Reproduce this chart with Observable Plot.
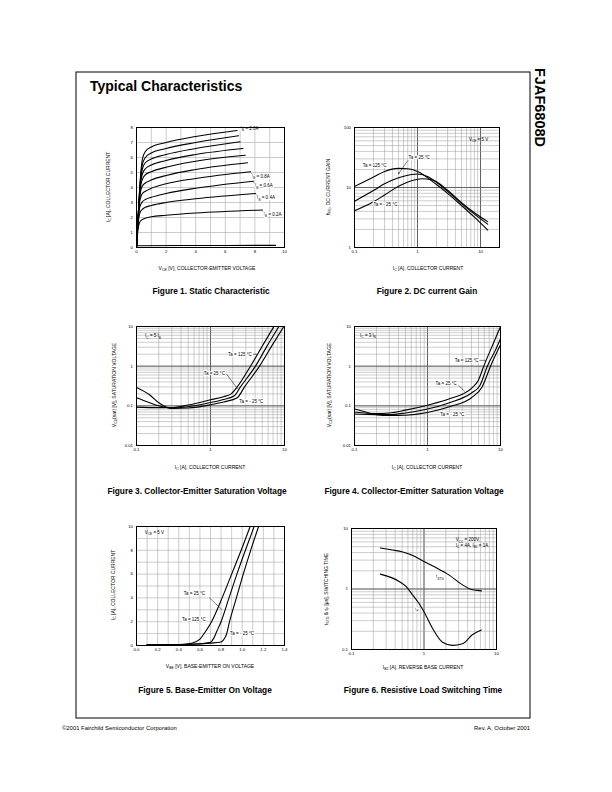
<!DOCTYPE html>
<html><head><meta charset="utf-8">
<script src="https://cdn.jsdelivr.net/npm/d3@7"></script>
<script src="https://cdn.jsdelivr.net/npm/@observablehq/plot@0.6"></script>
<style>
html,body{margin:0;padding:0;background:#fff;}
#page{position:relative;width:612px;height:792px;overflow:hidden;background:#fff;}
#page svg{position:absolute;overflow:visible;max-width:none;}
text{paint-order:stroke;}
</style></head><body><div id="page"></div>
<script>
// ---------------- DATA ----------------
// Figure 1: Static characteristic, IC [A] vs VCE [V], one array per IB
const f1Ticks = [0, 2, 4, 6, 8, 10];
const f1YTicks = [0, 1, 2, 3, 4, 5, 6, 7, 8];
const ib20 = [[0,0],[0.1,1.9],[0.2,3.7],[0.3,5.1],[0.4,5.9],[0.6,6.4],[1,6.7],[2,7.0],[4,7.4],[6.8,7.8]];
const ib18 = [[0,0],[0.1,1.9],[0.2,3.6],[0.3,4.9],[0.4,5.55],[0.6,6.0],[1,6.3],[2,6.6],[4,7.0],[6.9,7.45]];
const ib16 = [[0,0],[0.1,1.85],[0.2,3.5],[0.3,4.7],[0.4,5.25],[0.6,5.65],[1,5.9],[2,6.2],[4,6.6],[7.0,7.05]];
const ib14 = [[0,0],[0.1,1.8],[0.2,3.4],[0.3,4.45],[0.4,4.9],[0.6,5.25],[1,5.5],[2,5.8],[4,6.2],[7.2,6.6]];
const ib12 = [[0,0],[0.1,1.8],[0.2,3.3],[0.3,4.2],[0.4,4.55],[0.6,4.85],[1,5.05],[2,5.35],[4,5.75],[7.35,6.15]];
const ib10 = [[0,0],[0.1,1.75],[0.2,3.15],[0.3,3.85],[0.4,4.1],[0.6,4.3],[1,4.5],[2,4.8],[4,5.2],[7.5,5.65]];
const ib08 = [[0,0],[0.1,1.7],[0.2,2.95],[0.3,3.4],[0.4,3.6],[0.6,3.75],[1,3.95],[2,4.25],[4,4.6],[7.7,5.05]];
const ib06 = [[0,0],[0.1,1.65],[0.2,2.6],[0.3,2.9],[0.4,3.05],[0.6,3.2],[1,3.35],[2,3.6],[4,3.95],[7.9,4.42]];
const ib04 = [[0,0],[0.1,1.5],[0.2,2.2],[0.3,2.45],[0.4,2.55],[0.6,2.68],[1,2.8],[2,3.0],[4,3.25],[8.05,3.6]];
const ib02 = [[0,0],[0.1,1.2],[0.2,1.65],[0.3,1.8],[0.4,1.87],[0.6,1.95],[1,2.05],[2,2.15],[4,2.3],[8.5,2.5]];
const ib00 = [[0,0.12],[3,0.13],[9.4,0.14]];
const f1Labels = [
  {x: 7.05, y: 7.95, t: "I_{B} = 2.0A"},
  {x: 7.8, y: 4.72, t: "I_{B} = 0.8A"},
  {x: 8.0, y: 4.1, t: "I_{B} = 0.6A"},
  {x: 8.15, y: 3.3, t: "I_{B} = 0.4A"},
  {x: 8.6, y: 2.2, t: "I_{B} = 0.2A"}
];
const f1Leaders = [[7.7,5.0,7.85,4.85],[7.9,4.37,8.05,4.22],[8.05,3.55,8.2,3.42],[8.5,2.45,8.65,2.32]];

// Figure 2: DC current gain hFE vs IC
const f2XTicks = [0.1, 1, 10];
const f2YTicks = [1, 10, 100];
const hfe125 = [[0.1,10.4],[0.15,12.8],[0.2,14.9],[0.3,18.5],[0.5,20.8],[0.7,20.5],[1,18.5],[2,11.2],[3,8],[5,5.0],[8,3.2],[13,1.95]];
const hfe25  = [[0.1,5.9],[0.2,8.9],[0.3,11.5],[0.5,14.5],[0.8,16.5],[1,16.8],[1.5,15],[2,12.2],[3,8.6],[5,5.4],[8,3.6],[13,2.45]];
const hfeM25 = [[0.1,4.1],[0.2,5.8],[0.3,7.5],[0.5,10.5],[0.8,13],[1.2,14],[1.6,13.6],[2,12.5],[3,9],[5,5.6],[8,3.8],[13,2.7]];
const f2Labels = [{x:0.135,y:23.5,t:"Ta = 125 °C"},{x:0.72,y:31,t:"Ta = 25 °C"},{x:0.2,y:5.2,t:"Ta = - 25 °C"}];
const f2Arrows = [[0.7,28,0.5,17]];
const f2Box = [{x:9.3,y:63,t:"V_{CE} = 5 V"}];

// Figure 3: VCE(sat) vs IC, IC = 5 IB
const satXTicks = [0.1, 1, 10];
const satYTicks = [0.01, 0.1, 1, 10];
const s5_125 = [[0.1,0.093],[0.2,0.09],[0.3,0.09],[0.5,0.105],[1,0.142],[1.5,0.17],[1.9,0.2],[2.3,0.3],[3.47,1],[5,3.2],[7.2,10]];
const s5_25  = [[0.1,0.16],[0.15,0.12],[0.2,0.1],[0.3,0.088],[0.5,0.095],[1,0.121],[1.5,0.145],[2.1,0.18],[2.54,0.3],[4.05,1],[5.8,3.2],[8.4,10]];
const s5_m25 = [[0.1,0.29],[0.15,0.19],[0.2,0.12],[0.3,0.086],[0.5,0.088],[1,0.106],[1.5,0.125],[2.3,0.16],[2.88,0.3],[4.6,1],[6.7,3.2],[9.8,10]];
const f3Labels = [{x:1.73,y:2.0,t:"Ta = 125 °C"},{x:0.81,y:0.65,t:"Ta = 25 °C"},{x:2.45,y:0.126,t:"Ta = - 25 °C"}];
const f3Leaders = [[3.75,2.0,4.25,2.0],[1.65,0.63,2.35,0.26]];
const f3Box = [{x:0.167,y:5.75,t:"I_{C} = 5 I_{B}"}];

// Figure 4: VCE(sat) vs IC, IC = 3 IB
const s3_125 = [[0.1,0.07],[0.2,0.064],[0.3,0.066],[0.5,0.078],[1,0.104],[2,0.15],[4,0.275],[5,0.45],[5.9,1],[8,3.8],[10,10]];
const s3_25  = [[0.1,0.062],[0.2,0.06],[0.3,0.06],[0.5,0.066],[1,0.083],[2,0.12],[4,0.21],[5.2,0.32],[6.6,1],[8.5,2.5],[10,4.9]];
const s3_m25 = [[0.1,0.083],[0.15,0.068],[0.2,0.06],[0.3,0.057],[0.5,0.058],[1,0.068],[2,0.095],[4,0.16],[5.6,0.3],[7.3,1],[10,3.45]];
const f4Labels = [{x:2.37,y:1.4,t:"Ta = 125 °C"},{x:1.29,y:0.37,t:"Ta = 25 °C"},{x:1.5,y:0.06,t:"Ta = - 25 °C"}];
const f4Leaders = [[5.1,1.4,6.3,1.4],[2.65,0.33,3.25,0.23]];
const f4Box = [{x:0.153,y:5.9,t:"I_{C} = 3 I_{B}"}];

// Figure 5: IC vs VBE
const f5XTicks = [0, 0.2, 0.4, 0.6, 0.8, 1.0, 1.2, 1.4];
const f5YTicks = [0, 2, 4, 6, 8, 10];
const be125 = [[0.1,0.05],[0.3,0.07],[0.45,0.1],[0.52,0.18],[0.6,0.53],[0.65,1.14],[0.71,2.0],[0.81,4.0],[0.9,6.0],[0.99,8.0],[1.075,10]];
const be25  = [[0.1,0.05],[0.4,0.08],[0.6,0.15],[0.7,0.28],[0.73,0.6],[0.76,1.2],[0.8,2.0],[0.875,4],[0.95,6],[1.03,8],[1.113,10]];
const beM25 = [[0.1,0.05],[0.5,0.1],[0.7,0.2],[0.8,0.3],[0.825,0.5],[0.85,0.9],[0.88,2.0],[0.945,4.0],[1.01,6.0],[1.08,8.0],[1.155,10]];
const f5Labels = [{x:0.447,y:4.34,t:"Ta = 25 °C"},{x:0.43,y:2.18,t:"Ta = 125 °C"},{x:0.885,y:0.98,t:"Ta = - 25 °C"}];
const f5Leaders = [[0.69,4.0,0.81,3.0]];
const f5Box = [{x:0.17,y:9.5,t:"V_{CE} = 5 V"}];

// Figure 6: switching time vs IB2
const f6Ticks = [0.1, 1, 10];
const tstg = [[0.25,4.77],[0.35,4.45],[0.51,4.1],[0.75,3.45],[1.0,2.85],[1.46,2.26],[2.2,1.71],[3.4,1.17],[4.5,0.98],[6.2,0.93]];
const tf   = [[0.25,1.76],[0.46,1.32],[0.57,1.09],[0.7,0.79],[0.85,0.58],[1.0,0.42],[1.32,0.22],[1.8,0.132],[2.47,0.117],[3.4,0.124],[4.64,0.175],[6.17,0.21]];
const f6Labels = [{x:1.46,y:1.58,t:"t_{STG}"},{x:0.76,y:0.46,t:"t_{F}"}];
const f6Box = [{x:2.74,y:6.5,t:"V_{CC} = 200V,"},{x:2.74,y:5.2,t:"I_{C} = 4A, I_{B1} = 1A"}];

// page texts
const captions = [
  {t:"Figure 1. Static Characteristic", x:211, y:294},
  {t:"Figure 2. DC current Gain", x:427, y:294},
  {t:"Figure 3. Collector-Emitter Saturation Voltage", x:197, y:494},
  {t:"Figure 4. Collector-Emitter Saturation Voltage", x:414, y:494},
  {t:"Figure 5. Base-Emitter On Voltage", x:205, y:693},
  {t:"Figure 6. Resistive Load Switching Time", x:423, y:693}
];
const xTitles = [
  {t:"V_{CE} [V], COLLECTOR-EMITTER VOLTAGE", x:207, y:270},
  {t:"I_{C} [A], COLLECTOR CURRENT", x:428, y:270},
  {t:"I_{C} [A], COLLECTOR CURRENT", x:210, y:469},
  {t:"I_{C} [A], COLLECTOR CURRENT", x:427, y:469},
  {t:"V_{BE} [V], BASE-EMITTER ON VOLTAGE", x:210, y:668},
  {t:"I_{B2} [A], REVERSE BASE CURRENT", x:423, y:669}
];
const yTitles = [
  {t:"I_{C} [A], COLLECTOR CURRENT", x:110, y:187},
  {t:"h_{FE}, DC CURRENT GAIN", x:330, y:187},
  {t:"V_{CE}(sat) [V], SATURATION VOLTAGE", x:116, y:385},
  {t:"V_{CE}(sat) [V], SATURATION VOLTAGE", x:331, y:385},
  {t:"I_{C} [A], COLLECTOR CURRENT", x:115, y:585},
  {t:"t_{STG} & t_{F} [μs], SWITCHING TIME", x:328, y:589}
];

// ---------------- HELPERS ----------------
const FONT = "'Liberation Sans', Arial, Helvetica, sans-serif";
const NS = "http://www.w3.org/2000/svg";
const page = document.getElementById("page");

function setRich(el, str, fs) {
  const parts = str.split(/(_\{[^}]*\})/);
  el.textContent = "";
  let shifted = false;
  for (const p of parts) {
    if (!p) continue;
    const t = document.createElementNS(NS, "tspan");
    const m = p.match(/^_\{([^}]*)\}$/);
    if (m) {
      t.textContent = m[1];
      t.setAttribute("font-size", fs * 0.7);
      t.setAttribute("dy", fs * 0.28);
      shifted = true;
    } else {
      t.textContent = p;
      if (shifted) { t.setAttribute("dy", -fs * 0.28); shifted = false; }
    }
    el.appendChild(t);
  }
}
function fixSubs(svg, fs) {
  svg.querySelectorAll("text, tspan").forEach(el => {
    if ([...el.childNodes].every(n => n.nodeType === 3) && el.textContent.includes("_{")) setRich(el, el.textContent, fs);
  });
}
function boxes(svg) {
  svg.querySelectorAll('g[aria-label="boxed"]').forEach(g => {
    const b = g.getBBox();
    const r = document.createElementNS(NS, "rect");
    r.setAttribute("x", b.x - 2.5); r.setAttribute("y", b.y - 1.5);
    r.setAttribute("width", b.width + 5); r.setAttribute("height", b.height + 3);
    r.setAttribute("fill", "white"); r.setAttribute("stroke", "black"); r.setAttribute("stroke-width", 0.6);
    g.insertBefore(r, g.firstChild);
  });
}
const rows = (obj) => Object.entries(obj).flatMap(([id, pts]) => pts.map(([x, y]) => ({id, x, y})));
const LFS = 4.5;
const curveMark = (data) => Plot.line(data, {x: "x", y: "y", z: "id", curve: "monotone-x", stroke: "black", strokeWidth: 1.1});
const labelMark = (data, anchor = "start") => Plot.text(data, {x: "x", y: "y", text: "t", textAnchor: anchor, fontSize: LFS, fill: "black", stroke: "white", strokeWidth: 2});
const boxMark = (data, anchor = "middle") => Plot.text(data, {x: "x", y: "y", text: "t", textAnchor: anchor, fontSize: LFS, fill: "black", ariaLabel: "boxed"});
const linkMark = (data) => Plot.link(data, {x1: d => d[0], y1: d => d[1], x2: d => d[2], y2: d => d[3], stroke: "black", strokeWidth: 0.5});
const logGrid = (dom, axis) => {
  const all = d3.scaleLog().domain(dom).ticks();
  const major = all.filter(v => Math.abs(Math.log10(v) - Math.round(Math.log10(v))) < 1e-9);
  const R = axis === "x" ? Plot.ruleX : Plot.ruleY;
  return [R(all, {stroke: "#9a9a9a", strokeWidth: 0.5}), R(major, {stroke: "#555", strokeWidth: 0.9})];
};

function chart({frame: [x0, y0, x1, y1], x, y, marks}) {
  const mL = 22, mR = 6, mT = 6, mB = 14;
  const svg = Plot.plot({
    width: x1 - x0 + mL + mR, height: y1 - y0 + mT + mB,
    marginLeft: mL, marginRight: mR, marginTop: mT, marginBottom: mB,
    x: {...x, label: null, tickSize: 0, tickPadding: 2.5},
    y: {...y, label: null, tickSize: 0, tickPadding: 3.5},
    style: {fontFamily: FONT, fontSize: "4.3px", color: "black", background: "transparent", overflow: "visible"},
    marks: [...marks, Plot.frame({stroke: "black", strokeWidth: 1})]
  });
  svg.style.left = (x0 - mL) + "px";
  svg.style.top = (y0 - mT) + "px";
  page.appendChild(svg);
  fixSubs(svg, LFS);
  boxes(svg);
}

// ---------------- PAGE OVERLAY ----------------
const ov = d3.select(page).append("svg").attr("width", 612).attr("height", 792)
  .style("left", "0px").style("top", "0px").attr("font-family", FONT);
ov.append("rect").attr("x", 76).attr("y", 72).attr("width", 454).attr("height", 646)
  .attr("fill", "none").attr("stroke", "black").attr("stroke-width", 1);
function rich(str, {x, y, size, weight = "normal", anchor = "start", rotate = 0}) {
  const t = ov.append("text").attr("font-size", size).attr("font-weight", weight).attr("text-anchor", anchor);
  if (rotate) t.attr("transform", `translate(${x},${y}) rotate(${rotate})`); else t.attr("x", x).attr("y", y);
  setRich(t.node(), str, size);
}
rich("Typical Characteristics", {x: 90, y: 91, size: 14, weight: "bold"});
rich("FJAF6808D", {x: 535, y: 68, size: 14.5, weight: "bold", rotate: 90});
rich("©2001 Fairchild Semiconductor Corporation", {x: 62, y: 730, size: 5.9});
rich("Rev. A, October 2001", {x: 530, y: 730, size: 5.9, anchor: "end"});
captions.forEach(c => rich(c.t, {x: c.x, y: c.y, size: 8.3, weight: "bold", anchor: "middle"}));
xTitles.forEach(c => rich(c.t, {x: c.x, y: c.y, size: 5, anchor: "middle"}));
yTitles.forEach(c => rich(c.t, {x: c.x, y: c.y, size: 5, anchor: "middle", rotate: -90}));

// ---------------- CHARTS ----------------
// Figure 1
chart({
  frame: [136, 127, 284, 247],
  x: {domain: [0, 10], ticks: f1Ticks, tickFormat: d => String(d)},
  y: {domain: [0, 8], ticks: f1YTicks, tickFormat: d => String(d)},
  marks: [
    Plot.ruleX(d3.range(0, 11), {stroke: "#aaa", strokeWidth: 0.6}),
    Plot.ruleY(d3.range(0, 9), {stroke: "#aaa", strokeWidth: 0.6}),
    curveMark(rows({ib20, ib18, ib16, ib14, ib12, ib10, ib08, ib06, ib04, ib02, ib00})),
    linkMark(f1Leaders),
    labelMark(f1Labels)
  ]
});
// Figure 2
chart({
  frame: [354, 127, 499, 247],
  x: {type: "log", domain: [0.1, 20], ticks: f2XTicks, tickFormat: d => String(d)},
  y: {type: "log", domain: [1, 100], ticks: f2YTicks, tickFormat: d => String(d)},
  marks: [
    ...logGrid([0.1, 20], "x"), ...logGrid([1, 100], "y"),
    curveMark(rows({hfe125, hfe25, hfeM25})),
    Plot.arrow(f2Arrows, {x1: d => d[0], y1: d => d[1], x2: d => d[2], y2: d => d[3], stroke: "black", strokeWidth: 0.5, headLength: 3}),
    labelMark(f2Labels),
    boxMark(f2Box)
  ]
});
// Figure 3
chart({
  frame: [136, 326, 284, 445],
  x: {type: "log", domain: [0.1, 10], ticks: satXTicks, tickFormat: d => String(d)},
  y: {type: "log", domain: [0.01, 10], ticks: satYTicks, tickFormat: d => String(d)},
  marks: [
    ...logGrid([0.1, 10], "x"), ...logGrid([0.01, 10], "y"),
    curveMark(rows({s5_125, s5_25, s5_m25})),
    linkMark(f3Leaders),
    labelMark(f3Labels),
    boxMark(f3Box)
  ]
});
// Figure 4
chart({
  frame: [354, 326, 500, 445],
  x: {type: "log", domain: [0.1, 10], ticks: satXTicks, tickFormat: d => String(d)},
  y: {type: "log", domain: [0.01, 10], ticks: satYTicks, tickFormat: d => String(d)},
  marks: [
    ...logGrid([0.1, 10], "x"), ...logGrid([0.01, 10], "y"),
    curveMark(rows({s3_125, s3_25, s3_m25})),
    linkMark(f4Leaders),
    labelMark(f4Labels),
    boxMark(f4Box)
  ]
});
// Figure 5
chart({
  frame: [136, 526, 284, 645],
  x: {domain: [0, 1.4], ticks: f5XTicks, tickFormat: d => d.toFixed(1)},
  y: {domain: [0, 10], ticks: f5YTicks, tickFormat: d => String(d)},
  marks: [
    Plot.ruleX(d3.range(0, 15).map(i => i / 10), {stroke: "#aaa", strokeWidth: 0.6}),
    Plot.ruleY(d3.range(0, 11), {stroke: "#aaa", strokeWidth: 0.6}),
    curveMark(rows({be125, be25, beM25})),
    linkMark(f5Leaders),
    labelMark(f5Labels),
    boxMark(f5Box)
  ]
});
// Figure 6
chart({
  frame: [351, 528, 496, 649],
  x: {type: "log", domain: [0.1, 10], ticks: f6Ticks, tickFormat: d => String(d)},
  y: {type: "log", domain: [0.1, 10], ticks: f6Ticks, tickFormat: d => String(d)},
  marks: [
    ...logGrid([0.1, 10], "x"), ...logGrid([0.1, 10], "y"),
    curveMark(rows({tstg, tf})),
    labelMark(f6Labels),
    boxMark(f6Box, "start")
  ]
});
</script></body></html>
